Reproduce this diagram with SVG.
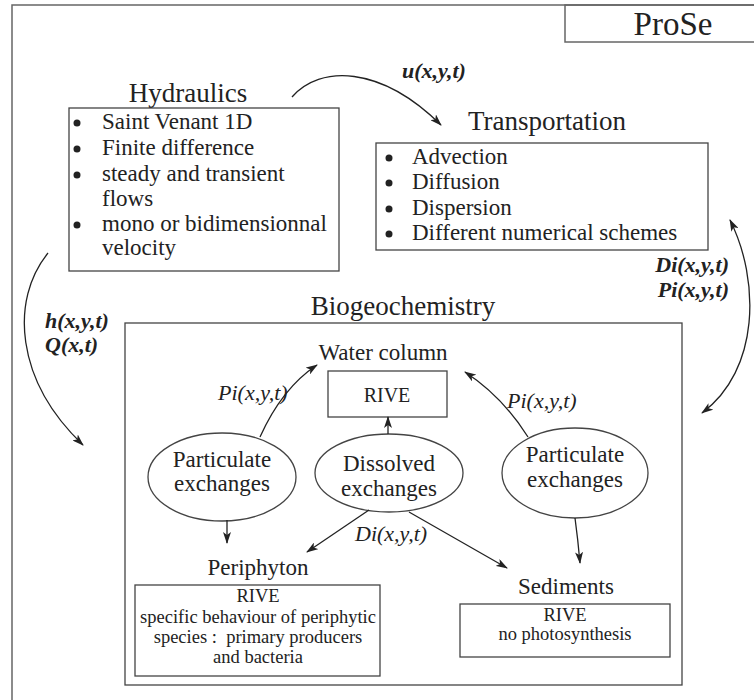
<svg xmlns="http://www.w3.org/2000/svg" width="754" height="700" viewBox="0 0 754 700">
<style>
text{font-family:"Liberation Serif","Times New Roman",serif;fill:#222}
.t{font-size:27px}
.li{font-size:23px}
.lb{font-size:23px}
.sm{font-size:18.5px}
.bi{font-size:22px;font-weight:bold;font-style:italic}
.it{font-size:22px;font-style:italic}
.box{fill:none;stroke:#444;stroke-width:1.3}
.frame{fill:none;stroke:#666;stroke-width:1.5}
.c{fill:none;stroke:#222;stroke-width:1.3}
.m{text-anchor:middle}
</style>
<defs>
<marker id="ah" viewBox="0 0 12 8" refX="11" refY="4" markerWidth="12" markerHeight="8" markerUnits="userSpaceOnUse" orient="auto-start-reverse">
<path d="M0,0 L12,4 L0,8 L3,4 z" fill="#222"/>
</marker>
</defs>
<rect width="754" height="700" fill="#fff"/>
<rect class="frame" x="12" y="5" width="770" height="720"/>
<g id="prose">
<rect class="frame" x="565" y="5" width="200" height="37"/>
<text class="m" x="673" y="35" style="font-size:33px">ProSe</text>
</g>
<g id="hydraulics">
<text class="t m" x="188" y="102">Hydraulics</text>
<rect class="box" x="69" y="108" width="270" height="163"/>
<g fill="#222"><circle cx="77" cy="123" r="3.5"/><circle cx="77" cy="149" r="3.5"/><circle cx="77" cy="175" r="3.5"/><circle cx="77" cy="225" r="3.5"/></g>
<text class="li" x="102" y="129">Saint Venant 1D</text>
<text class="li" x="102" y="155">Finite difference</text>
<text class="li" x="102" y="181">steady and transient</text>
<text class="li" x="102" y="206">flows</text>
<text class="li" x="102" y="231">mono or bidimensionnal</text>
<text class="li" x="102" y="255">velocity</text>
</g>
<g id="transportation">
<text class="t m" x="547" y="130">Transportation</text>
<rect class="box" x="376" y="143" width="332" height="107"/>
<g fill="#222"><circle cx="389" cy="158" r="3.5"/><circle cx="389" cy="183" r="3.5"/><circle cx="389" cy="209" r="3.5"/><circle cx="389" cy="234" r="3.5"/></g>
<text class="li" x="412" y="164">Advection</text>
<text class="li" x="412" y="189">Diffusion</text>
<text class="li" x="412" y="215">Dispersion</text>
<text class="li" x="412" y="240">Different numerical schemes</text>
</g>
<g id="biogeochemistry">
<text class="t m" x="403" y="315">Biogeochemistry</text>
<rect class="box" x="125" y="323" width="557" height="362"/>
</g>
<g id="water-column">
<text class="lb m" x="383" y="360">Water column</text>
<rect class="box" x="328" y="371" width="119" height="46"/>
<text class="m" x="387" y="402" style="font-size:20px">RIVE</text>
</g>
<g id="particulate-left">
<ellipse class="box" cx="222" cy="477" rx="74" ry="44"/>
<text class="lb m" x="222" y="467">Particulate</text>
<text class="lb m" x="222" y="491">exchanges</text>
</g>
<g id="dissolved">
<ellipse class="box" cx="389" cy="473" rx="74" ry="39"/>
<text class="lb m" x="389" y="471">Dissolved</text>
<text class="lb m" x="389" y="496">exchanges</text>
</g>
<g id="particulate-right">
<ellipse class="box" cx="575" cy="473" rx="73" ry="45"/>
<text class="lb m" x="575" y="462">Particulate</text>
<text class="lb m" x="575" y="487">exchanges</text>
</g>
<g id="periphyton">
<text class="lb m" x="258" y="575">Periphyton</text>
<rect class="box" x="135" y="585" width="245" height="91"/>
<text class="sm m" x="258" y="602">RIVE</text>
<text class="sm m" x="258" y="623">specific behaviour of periphytic</text>
<text class="sm m" x="258" y="643">species :&#160; primary producers</text>
<text class="sm m" x="258" y="663">and bacteria</text>
</g>
<g id="sediments">
<text class="lb m" x="566" y="594">Sediments</text>
<rect class="box" x="460" y="604" width="210" height="53"/>
<text class="sm m" x="565" y="621">RIVE</text>
<text class="sm m" x="565" y="640">no photosynthesis</text>
</g>
<g id="connectors">
<path class="c" d="M292,97 C320,65 380,65 441,125" marker-end="url(#ah)"/>
<path class="c" d="M730,220 C760,280 760,370 702,413" marker-start="url(#ah)" marker-end="url(#ah)"/>
<path class="c" d="M48,253 C10,300 15,380 83,445" marker-end="url(#ah)"/>
<path class="c" d="M260,437 Q282,388 317,365" marker-end="url(#ah)"/>
<path class="c" d="M528,437 Q502,396 465,372" marker-end="url(#ah)"/>
<path class="c" d="M388,434 L388,417" marker-end="url(#ah)"/>
<path class="c" d="M227,520 L227,543" marker-end="url(#ah)"/>
<path class="c" d="M369,510 L307,552" marker-end="url(#ah)"/>
<path class="c" d="M409,512 L507,568" marker-end="url(#ah)"/>
<path class="c" d="M575,518 Q578,540 580,563" marker-end="url(#ah)"/>
</g>
<g id="labels">
<text class="bi" x="402" y="78">u(x,y,t)</text>
<text class="bi" x="729" y="272" text-anchor="end">Di(x,y,t)</text>
<text class="bi" x="729" y="297" text-anchor="end">Pi(x,y,t)</text>
<text class="bi" x="45" y="328">h(x,y,t)</text>
<text class="bi" x="45" y="352">Q(x,t)</text>
<text class="it" x="218" y="400">Pi(x,y,t)</text>
<text class="it" x="507" y="408">Pi(x,y,t)</text>
<text class="it" x="355" y="541">Di(x,y,t)</text>
</g>
</svg>
